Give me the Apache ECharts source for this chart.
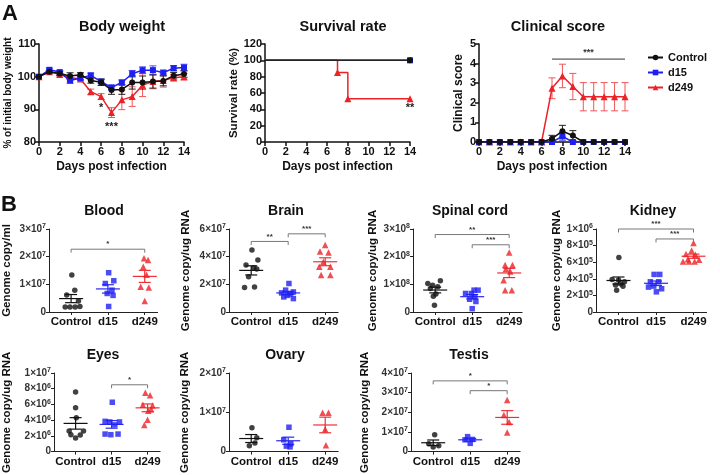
<!DOCTYPE html>
<html><head><meta charset="utf-8">
<script src="https://cdn.jsdelivr.net/npm/echarts@6/dist/echarts.min.js"></script>
<style>html,body{margin:0;padding:0;background:#fff}#c{width:720px;height:475px}</style>
</head><body><div id="c"></div>
<script>
// ---------- Panel A data ----------
const days = [0,1,2,3,4,5,6,7,8,9,10,11,12,13,14];
const bwControl    = [100,101.5,101,100.2,100.6,98.8,98.3,95.9,96.1,98.2,98.2,98.5,98.7,100.3,100.8];
const bwControlErr = [0,0.5,0.6,1,0.6,0.8,1,1.3,1.5,2,2,2,1.5,1,1];
const bwD15        = [100,102.1,101.4,98.8,99.6,100.4,98.5,96.7,98.2,100.9,102,102,101.2,102.6,102.8];
const bwD15Err     = [0,0.5,0.5,0.8,0.5,0.7,0.6,0.7,0.8,1,1,1.3,0.8,0.8,1];
const bwD249       = [100,101.5,100.7,99.7,99.3,95.4,93.9,89,92.9,93.9,97.4,98.5,98.8,99.7,100];
const bwD249Err    = [0,0.3,0.5,0.5,0.5,0.8,0.9,1.5,3,3,3.5,2.2,2,1,1];
const bwStars      = [[6,90.4,'*'],[7,84.5,'***']];

const survControlDays = [0,14];
const survControl     = [100,100];
const survD15Days     = [0,14];
const survD15         = [100,100];
const survD249Days    = [0,7,8,14];
const survD249        = [100,85,53,53];
const survStars       = [[14,41.5,'**']];

const csControl    = [0,0,0,0,0,0,0,0.17,0.55,0.33,0,0,0,0,0];
const csControlErr = [0,0,0,0,0,0,0,0.17,0.3,0.25,0,0,0,0,0];
const csD15        = [0,0,0,0,0,0,0,0,0.29,0,0,0,0,0,0];
const csD15Err     = [0,0,0,0,0,0,0,0,0.2,0,0,0,0,0,0];
const csD249       = [0,0,0,0,0,0,0,2.74,3.37,2.83,2.31,2.31,2.31,2.31,2.31];
const csD249Err    = [0,0,0,0,0,0,0,0.53,0.6,0.67,0.72,0.72,0.72,0.72,0.72];
const csBracket    = [7,14,4.23,'***'];

// ---------- Panel B data (values, and horizontal jitter in category units) ----------
const groups = ['Control','d15','d249'];

const bloodControl  = [1.34e7,0.79e7,0.61e7,0.40e7,0.18e7,0.18e7,0.18e7,0.20e7];
const bloodControlX = [0.02,0.10,-0.12,0.20,-0.16,-0.03,0.11,0.24];
const bloodD15      = [1.42e7,1.13e7,1.03e7,0.79e7,0.67e7,0.60e7,0.20e7];
const bloodD15X     = [0.02,0.16,-0.07,0.11,-0.02,0.14,0.02];
const bloodD249     = [1.94e7,1.88e7,1.64e7,1.35e7,0.91e7,0.89e7,0.40e7];
const bloodD249X    = [-0.02,0.09,-0.04,0.05,-0.11,0.11,0];
const bloodBrackets = [[1,3,2.27e7,'*']];

const brainControl  = [4.49e7,3.76e7,3.40e7,3.20e7,3.10e7,2.55e7,1.77e7,1.80e7];
const brainControlX = [0.02,0.18,-0.14,0.07,0.15,-0.07,-0.18,0.09];
const brainD15      = [2.06e7,1.58e7,1.45e7,1.38e7,1.30e7,1.09e7,0.97e7,1.20e7];
const brainD15X     = [0.02,-0.07,0.14,-0.18,0.05,-0.12,0.14,-0.02];
const brainD249     = [4.85e7,4.37e7,4.30e7,3.64e7,3.28e7,3.28e7,2.67e7,2.67e7];
const brainD249X    = [0,-0.14,0.09,-0.05,-0.16,0.14,-0.11,0.14];
const brainBrackets = [[1,2,5.1e7,'**'],[2,3,5.65e7,'***']];

const spinalControl  = [1.03e8,0.97e8,1.13e8,0.85e8,0.91e8,0.57e8,0.65e8,0.24e8];
const spinalControlX = [-0.2,-0.07,0.14,-0.13,0.07,-0.05,0.02,-0.02];
const spinalD15      = [0.79e8,0.79e8,0.67e8,0.67e8,0.55e8,0.46e8,0.38e8,0.12e8];
const spinalD15X     = [0.05,0.16,-0.02,-0.18,0.07,-0.07,0.1,0];
const spinalD249     = [2.15e8,1.70e8,1.70e8,1.55e8,1.46e8,1.15e8,0.79e8,0.79e8];
const spinalD249X    = [0,-0.11,0.09,-0.09,0.03,-0.15,-0.11,0.07];
const spinalBrackets = [[1,3,2.8e8,'**'],[2,3,2.43e8,'***']];

const kidneyControl  = [6.56e5,3.93e5,3.85e5,3.65e5,3.40e5,3.24e5,3.10e5,2.63e5];
const kidneyControlX = [0.01,-0.17,0,0.16,0.05,-0.08,0.12,-0.05];
const kidneyD15      = [4.53e5,4.53e5,3.64e5,3.64e5,3.12e5,3.00e5,2.43e5,2.80e5];
const kidneyD15X     = [-0.05,0.10,-0.15,0.07,-0.06,-0.2,0.01,0.15];
const kidneyD249     = [8.3e5,7.41e5,7.0e5,6.9e5,6.36e5,6.3e5,6.07e5,6.07e5,6.07e5];
const kidneyD249X    = [0,-0.05,-0.2,0.05,-0.15,0.15,-0.28,-0.12,0.03];
const kidneyBrackets = [[1,3,1.0e6,'***'],[2,3,8.8e5,'***']];

const eyesControl  = [7.57e6,5.59e6,4.30e6,2.63e6,2.63e6,2.15e6,2.10e6,1.74e6];
const eyesControlX = [0,0,0.02,-0.18,0.22,-0.13,0.13,0];
const eyesD15      = [6.28e6,3.85e6,3.77e6,3.77e6,3.40e6,2.23e6,2.15e6,2.23e6];
const eyesD15X     = [0.02,-0.18,-0.05,0.22,0.09,-0.18,-0.02,0.18];
const eyesD249     = [7.49e6,7.17e6,5.95e6,5.87e6,5.20e6,4.05e6,3.40e6,5.40e6];
const eyesD249X    = [-0.06,0.07,-0.13,0.14,0.02,0,-0.09,0.1];
const eyesBrackets = [[2,3,8.5e6,'*']];

const ovaryControl  = [0.61e7,0.35e7,0.15e7,0.22e7];
const ovaryControlX = [0.02,0.15,-0.05,0.1];
const ovaryD15      = [0.62e7,0.30e7,0.20e7,0.14e7,0.12e7];
const ovaryD15X     = [0.02,-0.12,0.07,-0.05,0.05];
const ovaryD249     = [0.99e7,0.99e7,0.57e7,0.16e7];
const ovaryD249X    = [-0.07,0.09,0,0.02];
const ovaryBrackets = [];

const testisControl  = [0.86e7,0.40e7,0.30e7,0.24e7];
const testisControlX = [0.04,-0.12,0.15,0];
const testisD15      = [0.76e7,0.62e7,0.60e7,0.42e7];
const testisD15X     = [-0.07,0.06,-0.14,0];
const testisD249     = [2.62e7,1.86e7,1.50e7,0.97e7];
const testisD249X    = [0,-0.09,0.05,0];
const testisBrackets = [[1,3,3.6e7,'*'],[2,3,3.1e7,'*']];

// ---------- styles / layout ----------
const BLACK = '#111111', BLUE = '#1f1ff2', RED = '#ec2227';
const FONT = 'Liberation Sans, Arial, sans-serif';

const chart = echarts.init(document.getElementById('c'), null, {renderer:'canvas'});
const grids = [], xAxes = [], yAxes = [], series = [], titles = [];

function axisCommon(w){
  return {
    axisLine:{show:true, lineStyle:{color:'#111', width:w}},
    axisTick:{show:true, inside:false, length:4, lineStyle:{color:'#111', width:w}},
    splitLine:{show:false},
  };
}

function errSeries(gi, xs, ys, errs, color, z){
  const data = [];
  xs.forEach((x,i)=>{ if(errs[i]>0) data.push([x, ys[i]-errs[i], ys[i]+errs[i]]); });
  return {type:'custom', xAxisIndex:gi, yAxisIndex:gi, z:z, silent:true, clip:false,
    encode:{x:0, y:[1,2]}, data:data,
    renderItem:function(p, api){
      const lo = api.coord([api.value(0), api.value(1)]);
      const hi = api.coord([api.value(0), api.value(2)]);
      const w = 3.5, st = {stroke:color, lineWidth:1};
      return {type:'group', children:[
        {type:'line', shape:{x1:lo[0],y1:lo[1],x2:hi[0],y2:hi[1]}, style:st},
        {type:'line', shape:{x1:lo[0]-w,y1:lo[1],x2:lo[0]+w,y2:lo[1]}, style:st},
        {type:'line', shape:{x1:hi[0]-w,y1:hi[1],x2:hi[0]+w,y2:hi[1]}, style:st}
      ]};
    }};
}

function lineSeries(gi, name, xs, ys, color, symbol, z, extra){
  return Object.assign({type:'line', name:name, xAxisIndex:gi, yAxisIndex:gi, z:z,
    data: xs.map((x,i)=>[x, ys[i]]), symbol:symbol, symbolSize: symbol==='triangle'?7:6,
    showAllSymbol:true, lineStyle:{color:color, width:1.5}, itemStyle:{color:color},
    emphasis:{disabled:true}, animation:false}, extra||{});
}

function starsSeries(gi, stars, color, size){
  return {type:'custom', xAxisIndex:gi, yAxisIndex:gi, z:20, silent:true, clip:false,
    data: stars.map(s=>[s[0], s[1], s[2]]),
    renderItem:function(p, api){
      const c = api.coord([api.value(0), api.value(1)]);
      return {type:'text', style:{text: stars[p.dataIndex][2], x:c[0], y:c[1], align:'center', verticalAlign:'middle',
        fill:color, font:'bold '+size+'px '+FONT}};
    }};
}

// ----- Panel A -----
const aLayout = [
  {left:39, top:44, width:145, height:98, min:80, max:110, interval:10, yName:'% of initial body weight', nameSize:10, nameGap:25, title:'Body weight', tx:117},
  {left:265, top:44, width:145, height:98, min:0, max:120, interval:20, yName:'Survival rate (%)', nameSize:11.5, nameGap:23, title:'Survival rate', tx:338},
  {left:479, top:44, width:146, height:98, min:0, max:5, interval:1, yName:'Clinical score', nameSize:12, nameGap:14, title:'Clinical score', tx:553}
];
aLayout.forEach((L, gi)=>{
  grids.push({left:L.left, top:L.top, width:L.width, height:L.height, containLabel:false});
  xAxes.push(Object.assign(axisCommon(1.5), {gridIndex:gi, type:'value', min:0, max:14, interval:2,
    name:'Days post infection', nameLocation:'middle', nameGap:19,
    nameTextStyle:{fontFamily:FONT, fontWeight:'bold', fontSize:12, color:'#111'},
    axisLabel:{fontFamily:FONT, fontWeight:'bold', fontSize:11, color:'#111', margin:4}}));
  yAxes.push(Object.assign(axisCommon(1.5), {gridIndex:gi, type:'value', min:L.min, max:L.max, interval:L.interval,
    name:L.yName, nameLocation:'middle', nameGap:L.nameGap, nameRotate:90,
    nameTextStyle:{fontFamily:FONT, fontWeight:'bold', fontSize:L.nameSize, color:'#111'},
    axisLabel:{fontFamily:FONT, fontWeight:'bold', fontSize:11, color:'#111', margin:3}}));
  titles.push({text:L.title, left:L.tx, top:14, textAlign:'center',
    textStyle:{fontFamily:FONT, fontWeight:'bold', fontSize:14.5, color:'#111'}});
});

// body weight
series.push(lineSeries(0,'Control',days,bwControl,BLACK,'circle',12));
series.push(lineSeries(0,'d15',days,bwD15,BLUE,'rect',11));
series.push(lineSeries(0,'d249',days,bwD249,RED,'triangle',10));
series.push(errSeries(0,days,bwD249,bwD249Err,'#f0565a',9));
series.push(errSeries(0,days,bwD15,bwD15Err,'#4a4af4',9));
series.push(errSeries(0,days,bwControl,bwControlErr,'#222',9));
series.push(starsSeries(0,bwStars,'#222',11));

// survival
series.push(lineSeries(1,'d249',survD249Days,survD249,RED,'triangle',10,{step:'end',
  data: survD249Days.map((x,i)=> i===0 ? {value:[x,survD249[i]], symbol:'none'} : [x,survD249[i]])}));
series.push(lineSeries(1,'d15',survD15Days,survD15,BLUE,'rect',11,{
  data: survD15Days.map((x,i)=> i===0 ? {value:[x,survD15[i]], symbol:'none'} : [x,survD15[i]])}));
series.push(lineSeries(1,'Control',survControlDays,survControl,BLACK,'circle',12,{lineStyle:{color:'#222',width:1.5},
  data: survControlDays.map((x,i)=> i===0 ? {value:[x,survControl[i]], symbol:'none'} : [x,survControl[i]])}));
series.push(starsSeries(1,survStars,'#222',11));

// clinical score
series.push(lineSeries(2,'d249',days,csD249,RED,'triangle',10));
series.push(lineSeries(2,'d15',days,csD15,BLUE,'rect',11));
series.push(lineSeries(2,'Control',days,csControl,BLACK,'circle',12));
series.push(errSeries(2,days,csD249,csD249Err,'#f0565a',9));
series.push(errSeries(2,days,csD15,csD15Err,'#4a4af4',9));
series.push(errSeries(2,days,csControl,csControlErr,'#222',9));
series.push({type:'custom', xAxisIndex:2, yAxisIndex:2, z:20, silent:true, clip:false, data:[csBracket.slice(0,3)],
  renderItem:function(p, api){
    const a = api.coord([csBracket[0], csBracket[2]]), b = api.coord([csBracket[1], csBracket[2]]);
    return {type:'group', children:[
      {type:'line', shape:{x1:a[0],y1:a[1],x2:b[0],y2:b[1]}, style:{stroke:'#333', lineWidth:1}},
      {type:'text', style:{text:csBracket[3], x:(a[0]+b[0])/2, y:a[1]-2, align:'center', verticalAlign:'bottom', fill:'#333', font:'bold 9px '+FONT}}
    ]};
  }});

// ----- Panel B -----
function sci(v){
  if (v === 0) return '0';
  const e = Math.floor(Math.log10(v) + 1e-9);
  const m = Math.round(v / Math.pow(10, e));
  return '{n|' + m + '×10}{s|' + e + '}';
}
const bLayout = [
  {title:'Blood', yName:'Genome copy/ml', max:3e7, interval:1e7, left:47, top:229, unit:37.5, nameGap:36, prefix:'blood', tx:99},
  {title:'Brain', yName:'Genome copy/ug RNA', max:6e7, interval:2e7, left:229, top:229, unit:37, nameGap:37, prefix:'brain', tx:281},
  {title:'Spinal cord', yName:'Genome copy/ug RNA', max:3e8, interval:1e8, left:413, top:229, unit:37, nameGap:34, prefix:'spinal', tx:465},
  {title:'Kidney', yName:'Genome copy/ug RNA', max:1e6, interval:2e5, left:596, top:229, unit:37.5, nameGap:33, prefix:'kidney', tx:648},
  {title:'Eyes', yName:'Genome copy/ug RNA', max:1e7, interval:2e6, left:51, top:373, unit:37, nameGap:41, prefix:'eyes', tx:98},
  {title:'Ovary', yName:'Genome copy/ug RNA', max:2e7, interval:1e7, left:229, top:373, unit:37, nameGap:38, prefix:'ovary', tx:280},
  {title:'Testis', yName:'Genome copy/ug RNA', max:4e7, interval:1e7, left:411, top:373, unit:37, nameGap:40, prefix:'testis', tx:464}
];
const bData = {
  blood:[bloodControl,bloodControlX,bloodD15,bloodD15X,bloodD249,bloodD249X,bloodBrackets],
  brain:[brainControl,brainControlX,brainD15,brainD15X,brainD249,brainD249X,brainBrackets],
  spinal:[spinalControl,spinalControlX,spinalD15,spinalD15X,spinalD249,spinalD249X,spinalBrackets],
  kidney:[kidneyControl,kidneyControlX,kidneyD15,kidneyD15X,kidneyD249,kidneyD249X,kidneyBrackets],
  eyes:[eyesControl,eyesControlX,eyesD15,eyesD15X,eyesD249,eyesD249X,eyesBrackets],
  ovary:[ovaryControl,ovaryControlX,ovaryD15,ovaryD15X,ovaryD249,ovaryD249X,ovaryBrackets],
  testis:[testisControl,testisControlX,testisD15,testisD15X,testisD249,testisD249X,testisBrackets]
};
const XMIN = 0.4, XMAX = 3.35;
const gColors = [BLACK, BLUE, RED], gSymbols = ['circle','rect','triangle'], gSizes = [5.5,5.5,6.5];
const gMeanColors = ['#111','#2a2af0','#ee3035'];

bLayout.forEach((L, k)=>{
  const gi = 3 + k;
  const width = (XMAX - XMIN) * L.unit, height = 83;
  grids.push({left:L.left, top:L.top, width:width, height:height});
  xAxes.push(Object.assign(axisCommon(1), {gridIndex:gi, type:'value', min:XMIN, max:XMAX,
    axisTick:{show:true, length:3, customValues:[1,2,3], lineStyle:{color:'#222', width:1}},
    axisLine:{show:true, lineStyle:{color:'#222', width:1}},
    axisLabel:{customValues:[1,2,3], formatter:v=>groups[Math.round(v)-1] || '', fontFamily:FONT, fontWeight:'bold', fontSize:11.5, color:'#111', margin:4}}));
  yAxes.push(Object.assign(axisCommon(1), {gridIndex:gi, type:'value', min:0, max:L.max, interval:L.interval,
    axisTick:{show:true, length:3, lineStyle:{color:'#222', width:1}},
    axisLine:{show:true, lineStyle:{color:'#222', width:1}},
    name:L.yName, nameLocation:'middle', nameGap:L.nameGap, nameRotate:90,
    nameTextStyle:{fontFamily:FONT, fontWeight:'bold', fontSize:11.5, color:'#111'},
    axisLabel:{formatter:sci, margin:3, fontFamily:FONT, fontWeight:'bold', color:'#333',
      rich:{n:{fontSize:10, fontWeight:'bold', color:'#333', fontFamily:FONT},
            s:{fontSize:7, fontWeight:'bold', color:'#333', fontFamily:FONT, verticalAlign:'top', padding:[0,0,5,0]}},
      fontSize:10}}));
  titles.push({text:L.title, left:L.tx, top:L.top - 30, textAlign:'center',
    textStyle:{fontFamily:FONT, fontWeight:'bold', fontSize:14, color:'#111'}});

  const d = bData[L.prefix];
  for (let g = 0; g < 3; g++){
    const vals = d[g*2], jit = d[g*2+1];
    const n = vals.length;
    const mean = vals.reduce((a,b)=>a+b,0)/n;
    const sd = Math.sqrt(vals.reduce((a,b)=>a+(b-mean)*(b-mean),0)/(n-1));
    const sem = sd/Math.sqrt(n);
    const mc = gMeanColors[g];
    series.push({type:'custom', xAxisIndex:gi, yAxisIndex:gi, z:4, silent:true, clip:false,
      data:[[g+1, mean, mean-sem, mean+sem]],
      renderItem:function(p, api){
        const c = api.coord([api.value(0), api.value(1)]);
        const lo = api.coord([api.value(0), api.value(2)]);
        const hi = api.coord([api.value(0), api.value(3)]);
        const st = {stroke:mc, lineWidth:1.2};
        return {type:'group', children:[
          {type:'line', shape:{x1:c[0]-12,y1:c[1],x2:c[0]+12,y2:c[1]}, style:st},
          {type:'line', shape:{x1:lo[0],y1:lo[1],x2:hi[0],y2:hi[1]}, style:st},
          {type:'line', shape:{x1:lo[0]-6,y1:lo[1],x2:lo[0]+6,y2:lo[1]}, style:st},
          {type:'line', shape:{x1:hi[0]-6,y1:hi[1],x2:hi[0]+6,y2:hi[1]}, style:st}
        ]};
      }});
    series.push({type:'scatter', name:L.prefix+groups[g], xAxisIndex:gi, yAxisIndex:gi, z:5, silent:true,
      data: vals.map((v,i)=>[g+1+jit[i], v]), symbol:gSymbols[g], symbolSize:gSizes[g],
      itemStyle:{color:gColors[g]}, animation:false});
  }
  const br = d[6];
  if (br.length){
    series.push({type:'custom', xAxisIndex:gi, yAxisIndex:gi, z:6, silent:true, clip:false,
      data: br.map(b=>[b[0], b[1], b[2]]),
      renderItem:function(p, api){
        const b = br[p.dataIndex];
        const a1 = api.coord([b[0], b[2]]), a2 = api.coord([b[1], b[2]]);
        const drop = 3.5;
        return {type:'group', children:[
          {type:'polyline', shape:{points:[[a1[0],a1[1]+drop],[a1[0],a1[1]],[a2[0],a2[1]],[a2[0],a2[1]+drop]]},
            style:{stroke:'#777', lineWidth:1, fill:null}},
          {type:'text', style:{text:b[3], x:(a1[0]+a2[0])/2, y:a1[1]-1, align:'center', verticalAlign:'bottom',
            fill:'#333', font:'bold 8px '+FONT}}
        ]};
      }});
  }
});

chart.setOption({
  animation:false,
  backgroundColor:'#fff',
  title:titles,
  grid:grids, xAxis:xAxes, yAxis:yAxes, series:series,
  legend:{data:['Control','d15','d249'], orient:'vertical', left:642, top:47, itemGap:4, itemWidth:15, itemHeight:7,
    selectedMode:false, textStyle:{fontFamily:FONT, fontWeight:'bold', fontSize:11, color:'#111'}},
  graphic:[
    {type:'text', left:2, top:3, style:{text:'A', font:'bold 22px '+FONT, fill:'#111'}},
    {type:'text', left:1, top:194, style:{text:'B', font:'bold 22px '+FONT, fill:'#111'}}
  ]
});
</script>
</body></html>
